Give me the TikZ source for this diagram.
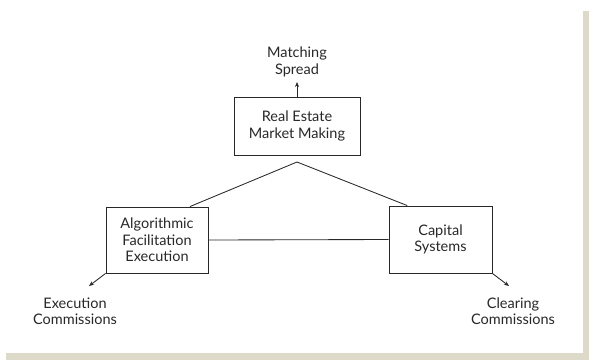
\documentclass[tikz,border=0pt]{standalone}
\usepackage{fontspec}
\setmainfont{Lato}
\usetikzlibrary{calc,arrows.meta}
\definecolor{frameshade}{RGB}{222,218,202}
\definecolor{ink}{RGB}{40,40,40}
\begin{document}
\begin{tikzpicture}[x=1pt,y=-1pt,
  every node/.style={font=\fontsize{14.5}{16.5}\selectfont, text=ink},
  block/.style={draw=ink, line width=0.85pt, fill=white, align=center, inner sep=0pt},
  label/.style={align=center, inner sep=0pt},
  link/.style={draw=ink, line width=0.85pt},
  flow/.style={draw=ink, line width=0.85pt, -{Stealth[length=5pt,width=4pt]}}]
  \useasboundingbox (0,0) rectangle (589,360);
  \fill[white] (0,0) rectangle (589,360);
  % shaded frame along the right and bottom edges
  \fill[frameshade] (583,11) rectangle (589,360);
  \fill[frameshade] (6,353) rectangle (589,360);

  % boxes
  \node[block, minimum width=126pt, minimum height=58pt] (mm) at (297,126) {Real Estate\\Market Making};
  \node[block, minimum width=102pt, minimum height=66pt] (alg) at (157,240) {Algorithmic\\Facilitation\\Execution};
  \node[block, minimum width=103pt, minimum height=67pt] (cap) at (440.5,239.5) {Capital\\Systems};

  % revenue labels
  \node[label] (spread) at (297,62) {Matching\\Spread};
  \node[label] (exec) at (75,311) {Execution\\Commissions};
  \node[label] (clear) at (513,311) {Clearing\\Commissions};

  % triangle linking the three activities
  \coordinate (peak) at (297,162);
  \coordinate (algtop) at ($(alg.north west)!0.82!(alg.north east)$);
  \coordinate (captop) at ($(cap.north west)!0.18!(cap.north east)$);
  \draw[link] (algtop) -- (peak) -- (captop);
  \draw[link] (alg.east) -- (cap.west);

  % arrows toward the revenue streams
  \coordinate (spreadtip) at (297,82);
  \coordinate (exectip) at (89,286);
  \coordinate (cleartip) at (509,286);
  \draw[flow] (mm.north) -- (spreadtip);
  \draw[flow] (alg.south west) -- (exectip);
  \draw[flow] (cap.south east) -- (cleartip);
\end{tikzpicture}
\end{document}
